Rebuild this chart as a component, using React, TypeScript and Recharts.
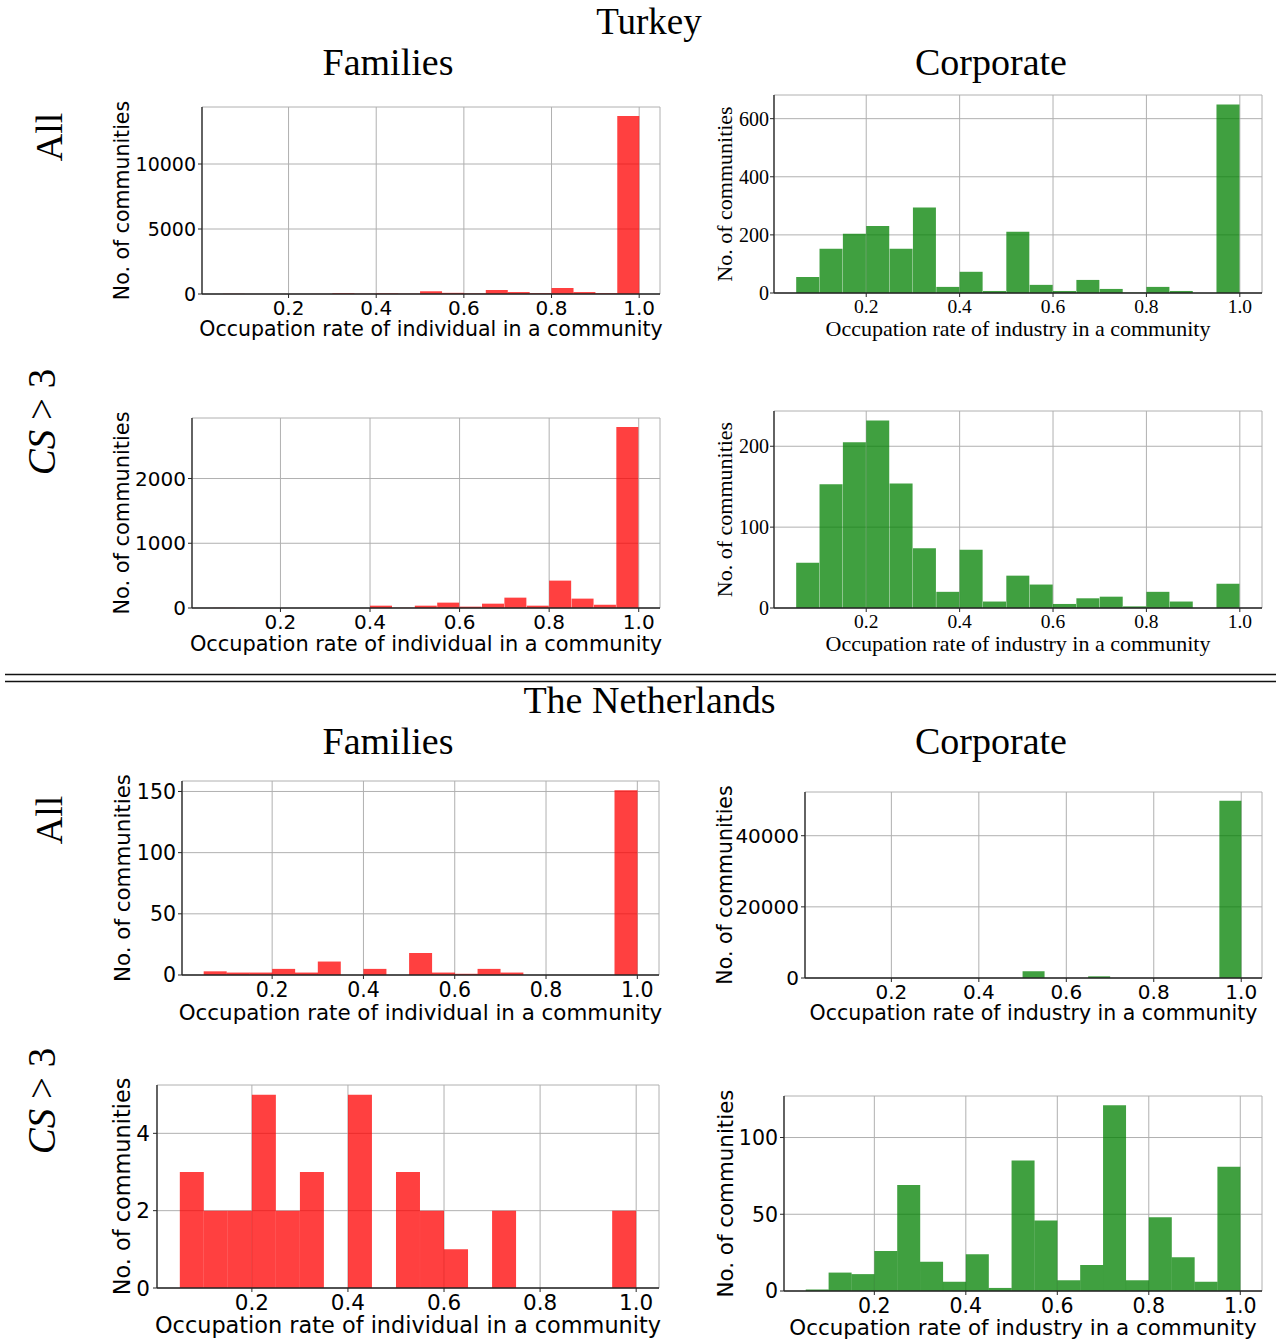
import React from 'react';
import { BarChart, Bar, XAxis, YAxis, CartesianGrid, Label } from 'recharts';

// Histogram bins: width 0.05 from 0.05 to 1.00 (bin centres)
const binCenters = [0.075, 0.125, 0.175, 0.225, 0.275, 0.325, 0.375, 0.425, 0.475, 0.525, 0.575, 0.625, 0.675, 0.725, 0.775, 0.825, 0.875, 0.925, 0.975];
const xTicks = [0.2, 0.4, 0.6, 0.8, 1.0];

// Turkey
const turkeyFamiliesAll = [15, 5, 5, 5, 10, 60, 20, 50, 25, 210, 90, 40, 310, 150, 60, 460, 150, 60, 13700];
const turkeyCorporateAll = [55, 152, 204, 231, 152, 294, 21, 73, 7, 211, 28, 7, 45, 14, 1, 21, 7, 0, 649];
const turkeyFamiliesCS3 = [2, 0, 0, 0, 0, 0, 0, 36, 3, 36, 83, 21, 67, 160, 36, 423, 145, 52, 2795];
const turkeyCorporateCS3 = [56, 153, 205, 232, 154, 74, 20, 72, 8, 40, 29, 5, 12, 14, 2, 20, 8, 0, 30];

// The Netherlands
const nlFamiliesAll = [3, 2, 2, 5, 2, 11, 0, 5, 0, 18, 2, 1, 5, 2, 0, 0, 0, 0, 151];
const nlCorporateAll = [0, 0, 0, 0, 0, 0, 0, 0, 0, 1900, 0, 0, 470, 0, 0, 0, 0, 0, 49800];
const nlFamiliesCS3 = [3, 2, 2, 5, 2, 3, 0, 5, 0, 3, 2, 1, 0, 2, 0, 0, 0, 0, 2];
const nlCorporateCS3 = [1, 12, 11, 26, 69, 19, 6, 24, 2, 85, 46, 7, 17, 121, 7, 48, 22, 6, 81];

// Y tick labels
const yTicksTrFamAll = [0, 5000, 10000];
const yTicksTrCorpAll = [0, 200, 400, 600];
const yTicksTrFamCS3 = [0, 1000, 2000];
const yTicksTrCorpCS3 = [0, 100, 200];
const yTicksNlFamAll = [0, 50, 100, 150];
const yTicksNlCorpAll = [0, 20000, 40000];
const yTicksNlFamCS3 = [0, 2, 4];
const yTicksNlCorpCS3 = [0, 50, 100];

const xLabelIndividual = 'Occupation rate of individual in a community';
const xLabelIndustry = 'Occupation rate of industry in a community';
const yLabelText = 'No. of communities';

const RED = '#ff0000';
const GREEN = '#008000';
const SANS = '"DejaVu Sans", sans-serif';
const SERIF = '"Liberation Serif", "Times New Roman", serif';
const TITLE_FONT = '"Liberation Serif", "Times New Roman", serif';
const SPINE = '#262626';
const X_DOMAIN: [number, number] = [0.0025, 1.0475];

type PanelProps = {
  values: number[];
  color: string;
  yTicks: number[];
  xLabel: string;
  serif: boolean;
  x0: number; y0: number; x1: number; y1: number;
  chartLeft: number;
  yLabelX: number;
  xLabelGap: number;
  yTickGap: number;
  tickFs: number;
  yTickFs: number;
  labelFs: number;
};

function Panel(p: PanelProps) {
  const data = binCenters.map((c, i) => ({ x: c, v: p.values[i] }));
  const top = 10;
  const right = 10;
  const xh = 60;
  const width = p.x1 - p.chartLeft + right;
  const height = top + (p.y1 - p.y0) + xh;
  const font = p.serif ? SERIF : SANS;
  const xTickStyle = { fill: '#000', fontSize: p.tickFs, fontFamily: font };
  const yTickStyle = { fill: '#000', fontSize: p.yTickFs, fontFamily: font };
  return (
    <div style={{ position: 'absolute', left: p.chartLeft, top: p.y0 - top }}>
      <BarChart
        width={width}
        height={height}
        data={data}
        margin={{ top, right, left: 0, bottom: 0 }}
        barCategoryGap={0}
        barGap={0}
      >
        <CartesianGrid stroke="#b0b0b0" strokeWidth={1} />
        <XAxis
          dataKey="x"
          type="number"
          domain={X_DOMAIN}
          allowDataOverflow
          ticks={xTicks}
          interval={0}
          tickFormatter={(v: number) => v.toFixed(1)}
          height={xh}
          tickSize={4}
          tickMargin={p.serif ? 2 : 3}
          tick={xTickStyle}
          axisLine={{ stroke: SPINE, strokeWidth: 1.3 }}
          tickLine={{ stroke: SPINE }}
        >
          <Label
            value={p.xLabel}
            position="insideBottom"
            offset={xh - p.xLabelGap}
            fill="#000"
            style={{ fontSize: p.labelFs, fontFamily: font, fill: '#000' }}
          />
        </XAxis>
        <YAxis
          type="number"
          domain={[0, (m: number) => m * 1.05]}
          ticks={p.yTicks}
          interval={0}
          width={p.x0 - p.chartLeft}
          tickSize={4}
          tickMargin={p.yTickGap - 4}
          tick={yTickStyle}
          axisLine={{ stroke: SPINE, strokeWidth: 1.3 }}
          tickLine={{ stroke: SPINE }}
        >
          <Label
            value={yLabelText}
            angle={-90}
            position="insideLeft"
            offset={p.yLabelX - p.chartLeft}
            fill="#000"
            style={{ textAnchor: 'middle', fontSize: p.labelFs, fontFamily: font, fill: '#000' }}
          />
        </YAxis>
        <XAxis
          xAxisId="top"
          orientation="top"
          dataKey="x"
          type="number"
          domain={X_DOMAIN}
          allowDataOverflow
          height={0}
          tick={false}
          tickLine={false}
          axisLine={{ stroke: SPINE, strokeWidth: 1.3 }}
        />
        <YAxis
          yAxisId="right"
          orientation="right"
          type="number"
          width={0}
          tick={false}
          tickLine={false}
          axisLine={{ stroke: SPINE, strokeWidth: 1.3 }}
        />
        <Bar dataKey="v" fill={p.color} fillOpacity={0.75} isAnimationActive={false} />
      </BarChart>
    </div>
  );
}

const panels: PanelProps[] = [
  { values: turkeyFamiliesAll, color: RED, yTicks: yTicksTrFamAll, xLabel: xLabelIndividual, serif: false, x0: 202, y0: 107, x1: 660, y1: 294, chartLeft: 95, yLabelX: 122, xLabelGap: 42, yTickGap: 6, tickFs: 20, yTickFs: 19, labelFs: 20.5 },
  { values: turkeyCorporateAll, color: GREEN, yTicks: yTicksTrCorpAll, xLabel: xLabelIndustry, serif: true, x0: 774, y0: 95, x1: 1262, y1: 293, chartLeft: 700, yLabelX: 724, xLabelGap: 43, yTickGap: 5, tickFs: 19.5, yTickFs: 20, labelFs: 22 },
  { values: turkeyFamiliesCS3, color: RED, yTicks: yTicksTrFamCS3, xLabel: xLabelIndividual, serif: false, x0: 192, y0: 418, x1: 660, y1: 608, chartLeft: 95, yLabelX: 122, xLabelGap: 43, yTickGap: 6, tickFs: 20, yTickFs: 20, labelFs: 20.9 },
  { values: turkeyCorporateCS3, color: GREEN, yTicks: yTicksTrCorpCS3, xLabel: xLabelIndustry, serif: true, x0: 774, y0: 411, x1: 1262, y1: 608, chartLeft: 700, yLabelX: 724, xLabelGap: 43, yTickGap: 5, tickFs: 19.5, yTickFs: 20, labelFs: 22 },
  { values: nlFamiliesAll, color: RED, yTicks: yTicksNlFamAll, xLabel: xLabelIndividual, serif: false, x0: 182, y0: 781, x1: 659, y1: 975, chartLeft: 95, yLabelX: 122, xLabelGap: 45, yTickGap: 6, tickFs: 20.5, yTickFs: 20.5, labelFs: 21.4 },
  { values: nlCorporateAll, color: GREEN, yTicks: yTicksNlCorpAll, xLabel: xLabelIndustry, serif: false, x0: 805, y0: 792, x1: 1262, y1: 978, chartLeft: 700, yLabelX: 725, xLabelGap: 42, yTickGap: 6, tickFs: 20, yTickFs: 20, labelFs: 20.5 },
  { values: nlFamiliesCS3, color: RED, yTicks: yTicksNlFamCS3, xLabel: xLabelIndividual, serif: false, x0: 157, y0: 1085, x1: 659, y1: 1288, chartLeft: 95, yLabelX: 122, xLabelGap: 45, yTickGap: 7, tickFs: 21.5, yTickFs: 21.5, labelFs: 22.4 },
  { values: nlCorporateCS3, color: GREEN, yTicks: yTicksNlCorpCS3, xLabel: xLabelIndustry, serif: false, x0: 784, y0: 1096, x1: 1262, y1: 1291, chartLeft: 700, yLabelX: 725, xLabelGap: 44, yTickGap: 6, tickFs: 20.5, yTickFs: 20.5, labelFs: 21.4 },
];

function Overlay() {
  const t = { fontFamily: TITLE_FONT, fontSize: 38, fill: '#000' } as const;
  const rowLabel = (text: React.ReactNode, x: number, y: number, fs: number) => (
    <text x={x} y={y} transform={`rotate(-90 ${x} ${y})`} textAnchor="middle" style={{ fontFamily: TITLE_FONT, fontSize: fs, fill: '#000' }}>
      {text}
    </text>
  );
  const cs3 = (
    <>
      <tspan fontStyle="italic">CS</tspan>
      <tspan> &gt; 3</tspan>
    </>
  );
  return (
    <svg width={1276} height={1343} style={{ position: 'absolute', left: 0, top: 0 }}>
      <text x={649} y={33.5} textAnchor="middle" style={{ ...t, fontSize: 37 }}>Turkey</text>
      <text x={388} y={75} textAnchor="middle" style={t}>Families</text>
      <text x={991} y={75} textAnchor="middle" style={t}>Corporate</text>
      {rowLabel('All', 62, 137, 38)}
      {rowLabel(cs3, 55, 422, 39)}
      <line x1={5} x2={1276} y1={674.5} y2={674.5} stroke="#111" strokeWidth={1.5} />
      <line x1={5} x2={1276} y1={681.5} y2={681.5} stroke="#111" strokeWidth={1.5} />
      <text x={649.5} y={713} textAnchor="middle" style={t}>The Netherlands</text>
      <text x={388} y={754} textAnchor="middle" style={t}>Families</text>
      <text x={991} y={754} textAnchor="middle" style={t}>Corporate</text>
      {rowLabel('All', 62, 820, 38)}
      {rowLabel(cs3, 55, 1101, 39)}
    </svg>
  );
}

export default function App() {
  return (
    <div style={{ position: 'absolute', left: 0, top: 0, width: 1276, height: 1343, background: '#fff', overflow: 'hidden' }}>
      <Overlay />
      {panels.map((p, i) => (
        <Panel key={i} {...p} />
      ))}
    </div>
  );
}
